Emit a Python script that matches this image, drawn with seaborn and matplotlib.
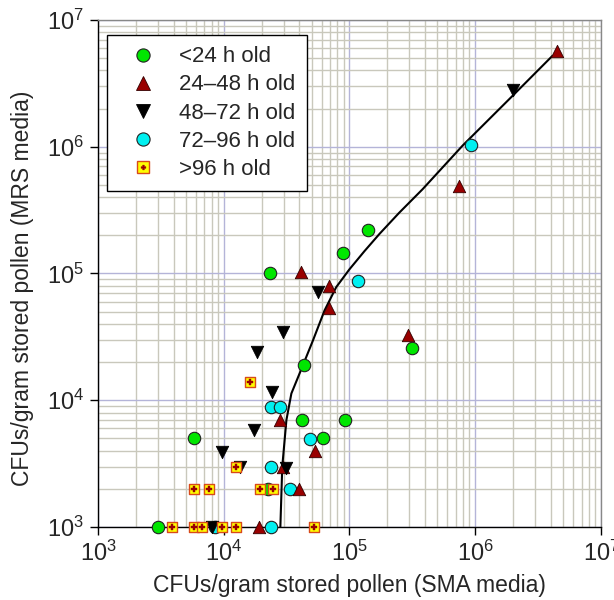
import numpy as np
import pandas as pd
import matplotlib
matplotlib.use("Agg")
import matplotlib.pyplot as plt
import seaborn as sns
from matplotlib.lines import Line2D
from matplotlib.legend_handler import HandlerTuple
from matplotlib.ticker import LogLocator, LogFormatterSciNotation, NullFormatter

# ---- data ----
lt24_x = [3000, 5800, 22400, 43200, 42200, 92000, 61400, 23200, 88500, 140000, 312000]
lt24_y = [1000, 5000, 2000, 19000, 7000, 7000, 5000, 100000, 145000, 220000, 26000]

h24_48_x = [19000, 39400, 29500, 52700, 27900, 41300, 68500, 69300, 290000, 746000, 4450000]
h24_48_y = [1000, 2000, 3000, 4000, 7000, 102000, 79000, 53000, 32500, 493000, 5700000]

h48_72_x = [8000, 9600, 13500, 31500, 17400, 24300, 18400, 29500, 56000, 1980000]
h48_72_y = [1000, 3900, 3000, 2900, 5800, 11600, 24000, 34500, 71300, 2800000]

h72_96_x = [8500, 23900, 33800, 23900, 48200, 23900, 28200, 116000, 920000]
h72_96_y = [1000, 1000, 2000, 3000, 4900, 8850, 8850, 88000, 1040000]

gt96_x = [3900, 5800, 6700, 9700, 12500, 52000, 5800, 7700, 19300, 24800, 12600, 16300]
gt96_y = [1000, 1000, 1000, 1000, 1000, 1000, 2000, 2000, 2000, 2000, 3000, 14000]

curve_x = [28200, 29200, 31500, 34500, 42100, 51200, 63400, 78400, 100000, 131500,
           173000, 249000, 382000, 793000, 1980000, 4100000]
curve_y = [1000, 2990, 6970, 11300, 18300, 29600, 51200, 78000, 108000, 150000,
           205000, 302000, 463000, 1020000, 2520000, 5200000]

labels = ["<24 h old", "24\u201348 h old", "48\u201372 h old", "72\u201396 h old", ">96 h old"]
x_label = "CFUs/gram stored pollen (SMA media)"
y_label = "CFUs/gram stored pollen (MRS media)"

# ---- style ----
sns.set_theme(style="white")
plt.rcParams["font.family"] = ["Liberation Sans", "DejaVu Sans"]
plt.rcParams["mathtext.default"] = "regular"

fig = plt.figure(figsize=(6.14, 6.0), dpi=100)
ax = fig.add_axes([0.1596, 0.1217, 0.8192, 0.845])

green = "#00E600"
dred = "#990000"
cyan = "#00F0F0"
yellow = "#FFFF00"
sqedge = "#D84A1A"

ms = 80
df_curve = pd.DataFrame({"x": curve_x, "y": curve_y})
sns.lineplot(data=df_curve, x="x", y="y", ax=ax, color="black", lw=1.5, sort=False,
             estimator=None, zorder=2)

def pts(x, y):
    return pd.DataFrame({"x": x, "y": y})

common = dict(clip_on=False)
sns.scatterplot(data=pts(lt24_x, lt24_y), x="x", y="y", ax=ax, marker="o", s=ms,
                color=green, edgecolor="#222222", linewidth=0.8, zorder=3, **common)
sns.scatterplot(data=pts(h72_96_x, h72_96_y), x="x", y="y", ax=ax, marker="o", s=ms,
                color=cyan, edgecolor="#222222", linewidth=0.8, zorder=3, **common)
sns.scatterplot(data=pts(h24_48_x, h24_48_y), x="x", y="y", ax=ax, marker="^", s=ms,
                color=dred, edgecolor="#330000", linewidth=0.6, zorder=4, **common)
sns.scatterplot(data=pts(h48_72_x, h48_72_y), x="x", y="y", ax=ax, marker="v", s=ms,
                color="black", edgecolor="black", linewidth=0.6, zorder=4, **common)
sns.scatterplot(data=pts(gt96_x, gt96_y), x="x", y="y", ax=ax, marker="s", s=62,
                color=yellow, edgecolor=sqedge, linewidth=1.0, zorder=5, **common)
sns.scatterplot(data=pts(gt96_x, gt96_y), x="x", y="y", ax=ax, marker="P", s=14,
                color=dred, edgecolor=dred, linewidth=0.3, zorder=6, **common)

ax.set_xscale("log")
ax.set_yscale("log")
ax.set_xlim(1e3, 1e7)
ax.set_ylim(1e3, 1e7)

for axis in (ax.xaxis, ax.yaxis):
    axis.set_major_locator(LogLocator(base=10, numticks=10))
    axis.set_major_formatter(LogFormatterSciNotation())
    axis.set_minor_locator(LogLocator(base=10, subs=np.arange(2, 10), numticks=20))
    axis.set_minor_formatter(NullFormatter())

ax.grid(True, which="minor", color="#C9C8BC", lw=1.0, zorder=0)
ax.grid(True, which="major", color="#B4B4D8", lw=1.0, zorder=0)
ax.set_axisbelow(True)

ax.tick_params(which="major", direction="out", length=6, width=1, color="black",
               labelsize=17, pad=4, bottom=True, left=True)
ax.tick_params(which="minor", length=0)

for s in ["left", "bottom"]:
    ax.spines[s].set_color("black")
    ax.spines[s].set_linewidth(1.0)
for s in ["top", "right"]:
    ax.spines[s].set_color("#888888")
    ax.spines[s].set_linewidth(1.0)

ax.set_xlabel(x_label, fontsize=16.5, labelpad=6)
ax.set_ylabel(y_label, fontsize=16.5)
ax.yaxis.set_label_coords(-0.128, 0.47)

handles = [
    Line2D([], [], ls="none", marker="o", ms=9.5, mfc=green, mec="#222222", mew=0.8),
    Line2D([], [], ls="none", marker="^", ms=9.5, mfc=dred, mec="#330000", mew=0.6),
    Line2D([], [], ls="none", marker="v", ms=9.5, mfc="black", mec="black", mew=0.6),
    Line2D([], [], ls="none", marker="o", ms=9.5, mfc=cyan, mec="#222222", mew=0.8),
    (Line2D([], [], ls="none", marker="s", ms=8, mfc=yellow, mec=sqedge, mew=1.0),
     Line2D([], [], ls="none", marker="P", ms=3.5, mfc=dred, mec=dred, mew=0.3)),
]
leg = ax.legend(handles, labels, loc="upper left", bbox_to_anchor=(0.018, 0.97),
                fontsize=16, frameon=True, fancybox=False, edgecolor="black",
                framealpha=1, borderpad=0.5, labelspacing=0.32, handletextpad=0.55,
                handlelength=2.2, borderaxespad=0,
                handler_map={tuple: HandlerTuple(ndivide=1)})
leg.get_frame().set_linewidth(1.0)
leg.set_zorder(10)

fig.savefig("out.png", dpi=100)
